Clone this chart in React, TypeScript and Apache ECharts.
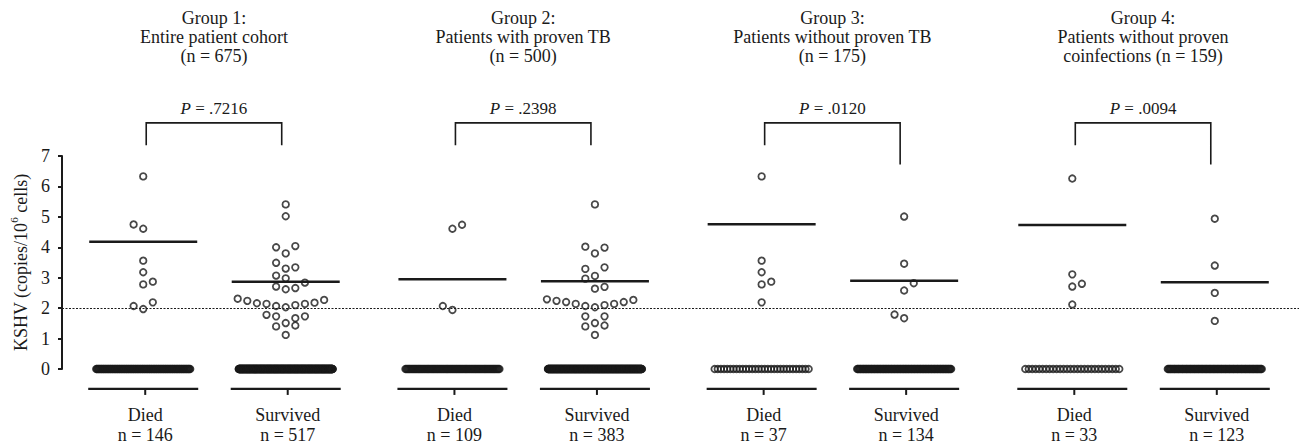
import React, { useEffect, useRef } from "react";
import * as echarts from "echarts";

// ---------- data ----------
const categoryLabels = ["Died", "Survived", "Died", "Survived", "Died", "Survived", "Died", "Survived"];
const categoryN = [146, 517, 109, 383, 37, 134, 33, 123];
const categoryPositions = [0, 1, 2.17, 3.17, 4.34, 5.34, 6.52, 7.52];
const meanLines = [4.18, 2.87, 2.95, 2.88, 4.76, 2.9, 4.73, 2.85];

const groupTitles = [
  ["Group 1:", "Entire patient cohort", "(n = 675)"],
  ["Group 2:", "Patients with proven TB", "(n = 500)"],
  ["Group 3:", "Patients without proven TB", "(n = 175)"],
  ["Group 4:", "Patients without proven", "coinfections (n = 159)"],
];
const pValues = [".7216", ".2398", ".0120", ".0094"];

// non-zero KSHV values per category and their swarm column (in dot widths)
const g1DiedValues = [6.33, 4.75, 4.61, 3.56, 3.18, 2.87, 2.78, 2.19, 2.07, 1.97];
const g1DiedCols = [0, -1, 0, 0, 0, 1, 0, 1, -1, 0];
const g1SurvValues = [5.41, 5.02, 4.04, 4.0, 3.8, 3.49, 3.34, 3.3, 3.07, 2.98, 2.84, 2.71, 2.66, 2.62,
  2.31, 2.24, 2.16, 2.14, 2.07, 2.03, 2.1, 2.14, 2.18, 2.27, 1.78, 1.73, 1.67, 1.73, 1.4, 1.51, 1.43, 1.12];
const g1SurvCols = [0, 0, 1, -1, 0, -1, 1, 0, -1, 0, 2, -1, 1, 0,
  -5, -4, -3, -2, -1, 0, 1, 2, 3, 4, -2, -1, 1, 2, -1, 0, 1, 0];
const g2DiedValues = [4.74, 4.61, 2.07, 1.94];
const g2DiedCols = [1, 0, -1, 0];
const g2SurvValues = [5.41, 4.02, 3.99, 3.8, 3.34, 3.29, 3.06, 2.97, 2.7, 2.64,
  2.29, 2.24, 2.2, 2.14, 2.07, 2.03, 2.1, 2.14, 2.2, 2.27, 1.73, 1.73, 1.51, 1.43, 1.4, 1.12];
const g2SurvCols = [0, -1, 1, 0, 1, -1, 0, -1, 1, 0,
  -5, -4, -3, -2, -1, 0, 1, 2, 3, 4, -1, 1, 0, 1, -1, 0];
const g3DiedValues = [6.33, 3.56, 3.18, 2.87, 2.78, 2.19];
const g3DiedCols = [0, 0, 0, 1, 0, 0];
const g3SurvValues = [5.01, 3.46, 2.82, 2.58, 1.79, 1.67];
const g3SurvCols = [0, 0, 1, 0, -1, 0];
const g4DiedValues = [6.26, 3.11, 2.8, 2.71, 2.12];
const g4DiedCols = [0, 0, 1, 0, 0];
const g4SurvValues = [4.94, 3.4, 2.5, 1.58];
const g4SurvCols = [0, 0, 0, 0];

const yTicks = [0, 1, 2, 3, 4, 5, 6, 7];
const cutoff = 2;

const catValues = [g1DiedValues, g1SurvValues, g2DiedValues, g2SurvValues, g3DiedValues, g3SurvValues, g4DiedValues, g4SurvValues];
const catCols = [g1DiedCols, g1SurvCols, g2DiedCols, g2SurvCols, g3DiedCols, g3SurvCols, g4DiedCols, g4SurvCols];

// ---------- layout constants ----------
const FONT = "'Liberation Serif', 'DejaVu Serif', serif";
const INK = "#1a1a1a";
const DOT_STEP = 0.0674; // x units per swarm column
const ZERO_HALF = 0.33; // half-width of zero row, x units
const AXIS_FOOT = -0.655; // y of category base lines
const BRACKET_TOP = 8.09;
const BRACKET_LEFT_FOOT = [7.35, 7.35, 7.35, 7.35];
const BRACKET_RIGHT_FOOT = [7.35, 7.35, 6.72, 6.72];

function buildScatter(): number[][] {
  const pts: number[][] = [];
  catValues.forEach((vals, ci) => {
    const pos = categoryPositions[ci];
    const zeros = categoryN[ci] - vals.length;
    for (let j = 0; j < zeros; j++) {
      const t = zeros > 1 ? j / (zeros - 1) : 0.5;
      pts.push([pos - ZERO_HALF + 2 * ZERO_HALF * t, 0]);
    }
    vals.forEach((v, k) => pts.push([pos + catCols[ci][k] * DOT_STEP, v]));
  });
  return pts;
}

export default function App() {
  const ref = useRef<HTMLDivElement>(null);
  useEffect(() => {
    document.body.style.margin = "0";
    if (!ref.current) return;
    const chart = echarts.init(ref.current, null, { renderer: "svg" });

    const catData = categoryPositions.map((p, i) => [p, meanLines[i], i]);
    const groupData = pValues.map((_, i) => [
      (categoryPositions[2 * i] + categoryPositions[2 * i + 1]) / 2,
      BRACKET_TOP,
      i,
    ]);

    const option: any = {
      animation: false,
      backgroundColor: "#fff",
      grid: { left: 62, right: 3, top: 156, bottom: 75, containLabel: false },
      xAxis: { type: "value", min: -0.57, max: 8.111, show: false },
      yAxis: {
        type: "value",
        min: 0,
        max: 7,
        interval: 1,
        axisLine: { show: true, onZero: false, lineStyle: { color: INK, width: 2 } },
        axisTick: { show: true, length: 4, lineStyle: { color: INK, width: 2 } },
        splitLine: { show: false },
        axisLabel: {
          color: INK,
          fontSize: 18,
          fontFamily: FONT,
          margin: 12,
          formatter: (v: number) => (yTicks.includes(v) ? String(v) : ""),
        },
        name: "{n|KSHV (copies/10}{s|6}{n| cells)}",
        nameLocation: "middle",
        nameGap: 31,
        nameTextStyle: {
          color: INK,
          fontFamily: FONT,
          rich: {
            n: { fontSize: 18, fontFamily: FONT, color: INK, lineHeight: 22, verticalAlign: "bottom" },
            s: { fontSize: 11, fontFamily: FONT, color: INK, lineHeight: 22, verticalAlign: "top" },
          },
        },
      },
      series: [
        {
          type: "scatter",
          data: buildScatter(),
          symbol: "circle",
          symbolSize: 6.5,
          itemStyle: { color: "rgba(255,255,255,0)", borderColor: INK, borderWidth: 1.8 },
          silent: true,
          z: 5,
          markLine: {
            silent: true,
            symbol: "none",
            label: { show: false },
            lineStyle: { color: INK, width: 1.2, type: [2, 1.5] },
            data: [{ yAxis: cutoff }],
          },
        },
        {
          type: "custom",
          clip: false,
          silent: true,
          data: catData,
          z: 4,
          renderItem: (params: any, api: any) => {
            const i = api.value(2);
            const m = api.coord([api.value(0), api.value(1)]);
            const b = api.coord([api.value(0), AXIS_FOOT]);
            return {
              type: "group",
              children: [
                { type: "line", shape: { x1: m[0] - 54, y1: m[1], x2: m[0] + 54, y2: m[1] }, style: { stroke: INK, lineWidth: 2.5 } },
                { type: "line", shape: { x1: b[0] - 55, y1: b[1], x2: b[0] + 55, y2: b[1] }, style: { stroke: INK, lineWidth: 2.3 } },
                { type: "line", shape: { x1: b[0] + 2, y1: b[1], x2: b[0] + 2, y2: b[1] + 6 }, style: { stroke: INK, lineWidth: 2 } },
                {
                  type: "text", x: b[0] + 2, y: b[1] + 26,
                  style: { text: categoryLabels[i], fontSize: 18, fontFamily: FONT, fill: INK, align: "center", verticalAlign: "middle" },
                },
                {
                  type: "text", x: b[0] + 2, y: b[1] + 46,
                  style: { text: "n = " + categoryN[i], fontSize: 18, fontFamily: FONT, fill: INK, align: "center", verticalAlign: "middle" },
                },
              ],
            };
          },
        },
        {
          type: "custom",
          clip: false,
          silent: true,
          data: groupData,
          z: 4,
          renderItem: (params: any, api: any) => {
            const gi = api.value(2);
            const dx = categoryPositions[2 * gi];
            const sx = categoryPositions[2 * gi + 1];
            const t = api.coord([dx, BRACKET_TOP]);
            const l = api.coord([dx, BRACKET_LEFT_FOOT[gi]]);
            const r = api.coord([sx, BRACKET_RIGHT_FOOT[gi]]);
            const lx = l[0] + 3;
            const rx = r[0] - 4;
            const cx = (lx + rx) / 2;
            const titles = groupTitles[gi].map((line, k) => ({
              type: "text",
              x: cx,
              y: 18 + k * 19,
              style: { text: line, fontSize: 18, fontFamily: FONT, fill: INK, align: "center", verticalAlign: "middle" },
            }));
            return {
              type: "group",
              children: [
                {
                  type: "polyline",
                  shape: { points: [[lx, l[1]], [lx, t[1]], [rx, t[1]], [rx, r[1]]] },
                  style: { stroke: INK, lineWidth: 1.6, fill: "none" },
                },
                {
                  type: "text",
                  x: cx,
                  y: t[1] - 14,
                  style: {
                    text: "{i|P} = " + pValues[gi],
                    fontSize: 17,
                    fontFamily: FONT,
                    fill: INK,
                    align: "center",
                    verticalAlign: "middle",
                    rich: {
                      i: { fontSize: 17, fontFamily: FONT, fontStyle: "italic", fill: INK },
                    },
                  },
                },
                ...titles,
              ],
            };
          },
        },
      ],
    };
    chart.setOption(option);
    return () => chart.dispose();
  }, []);
  return <div ref={ref} style={{ width: 1302, height: 444 }} />;
}
